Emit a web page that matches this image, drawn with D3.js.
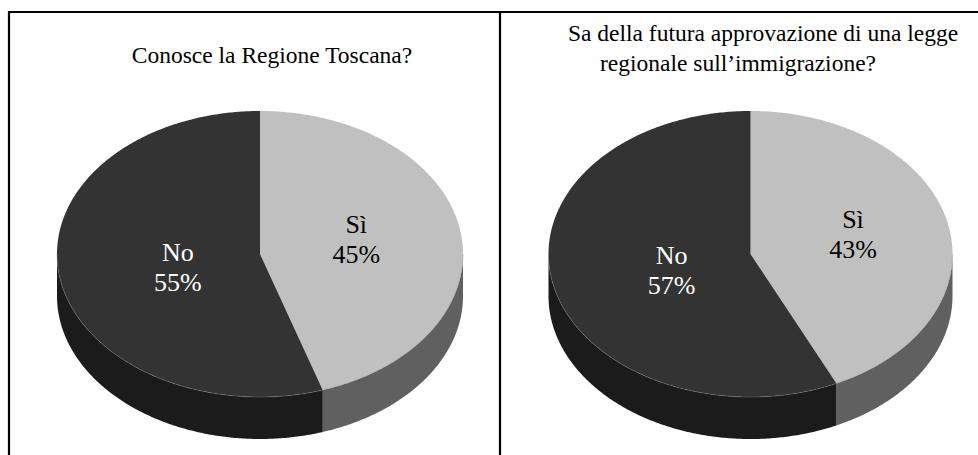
<!DOCTYPE html>
<html>
<head>
<meta charset="utf-8">
<script src="https://cdnjs.cloudflare.com/ajax/libs/d3/7.8.5/d3.min.js"></script>
<style>
  html, body { margin: 0; padding: 0; background: #fff; }
  svg { display: block; }
</style>
</head>
<body>
<div id="chart"></div>
<script>
// svg box size
var width = 978,
    height = 455;

var fontFamily = "'Liberation Serif', 'Times New Roman', Times, serif";

//////////////////
// Data
//////////////////
var categories = ["Sì", "No"];
var valuesToscana = [45, 55];
var valuesLegge = [43, 57];
var titleToscana = ["Conosce la Regione Toscana?"];
var titleLegge = ["Sa della futura approvazione di una legge", "regionale sull\u2019immigrazione?"];

var topColors = { "Sì": "#c0c0c0", "No": "#333333" };
var sideColors = { "Sì": "#606060", "No": "#1b1b1b" };
var textColors = { "Sì": "#000000", "No": "#ffffff" };

var svg = d3.select("#chart").append("svg")
    .attr("width", width)
    .attr("height", height)
    .style("font-family", fontFamily);

// panel frame
svg.append("path")
    .attr("d", "M9,455 V12 H978 M500,12 V455")
    .attr("fill", "none")
    .attr("stroke", "#000")
    .attr("stroke-width", 2.2);

var pie = d3.pie()
    .sort(null)
    .value(function(d) { return d.value; });

// point on the flattened disc, angle clockwise from 12 o'clock
function pt(c, a, k, dy) {
    return [c.cx + c.rx * k * Math.sin(a), c.cy - c.ry * k * Math.cos(a) + (dy || 0)];
}

function arcPoints(c, a0, a1, dy) {
    var n = Math.max(2, Math.ceil(Math.abs(a1 - a0) / 0.01));
    var pts = [];
    for (var i = 0; i <= n; i++) {
        pts.push(pt(c, a0 + (a1 - a0) * i / n, 1, dy));
    }
    return pts;
}

function drawPie(c, values, titleLines) {
    var data = categories.map(function(k, i) { return { name: k, value: values[i] }; });
    var slices = pie(data);
    var g = svg.append("g");

    // side walls (front half only: angles between PI/2 and 3PI/2)
    slices.forEach(function(s) {
        var a0 = Math.max(s.startAngle, Math.PI / 2),
            a1 = Math.min(s.endAngle, 3 * Math.PI / 2);
        if (a1 <= a0) return;
        var topArc = arcPoints(c, a0, a1, 0);
        var botArc = arcPoints(c, a1, a0, c.depth);
        g.append("path")
            .attr("d", d3.line()(topArc.concat(botArc)) + "Z")
            .attr("fill", sideColors[s.data.name]);
    });

    // top faces
    slices.forEach(function(s) {
        var pts = [[c.cx, c.cy]].concat(arcPoints(c, s.startAngle, s.endAngle, 0));
        g.append("path")
            .attr("d", d3.line()(pts) + "Z")
            .attr("fill", topColors[s.data.name]);
    });

    // thin light rim on the front edge
    g.append("path")
        .attr("d", d3.line()(arcPoints(c, Math.PI / 2, 3 * Math.PI / 2, 0)))
        .attr("fill", "none")
        .attr("stroke", "#8a8a8a")
        .attr("stroke-width", 0.6)
        .attr("opacity", 0.6);

    // labels
    slices.forEach(function(s) {
        var mid = (s.startAngle + s.endAngle) / 2;
        var p = pt(c, mid, c.labelK[s.index], c.labelDy[s.index]);
        var t = g.append("text")
            .attr("x", p[0])
            .attr("y", p[1])
            .attr("text-anchor", "middle")
            .attr("font-family", fontFamily)
            .attr("font-size", 26)
            .attr("fill", textColors[s.data.name]);
        t.append("tspan").attr("x", p[0]).attr("dy", "-0.2em").text(s.data.name);
        t.append("tspan").attr("x", p[0]).attr("dy", "1.16em").text(s.data.value + "%");
    });

    // title
    var title = g.append("text")
        .attr("text-anchor", "middle")
        .attr("font-family", fontFamily)
        .attr("font-size", 23.5)
        .attr("fill", "#000");
    titleLines.forEach(function(line, i) {
        title.append("tspan")
            .attr("x", c.titleX[i])
            .attr("y", c.titleY[i])
            .text(line);
    });
}

drawPie({ cx: 260, cy: 254, rx: 203, ry: 143, depth: 42,
          labelK: [0.48, 0.41], labelDy: [-5, 3],
          titleX: [272], titleY: [63] },
        valuesToscana, titleToscana);
drawPie({ cx: 750.5, cy: 254, rx: 202, ry: 143, depth: 42,
          labelK: [0.52, 0.40], labelDy: [-5, 3],
          titleX: [763, 738], titleY: [41, 71] },
        valuesLegge, titleLegge);
</script>
</body>
</html>
